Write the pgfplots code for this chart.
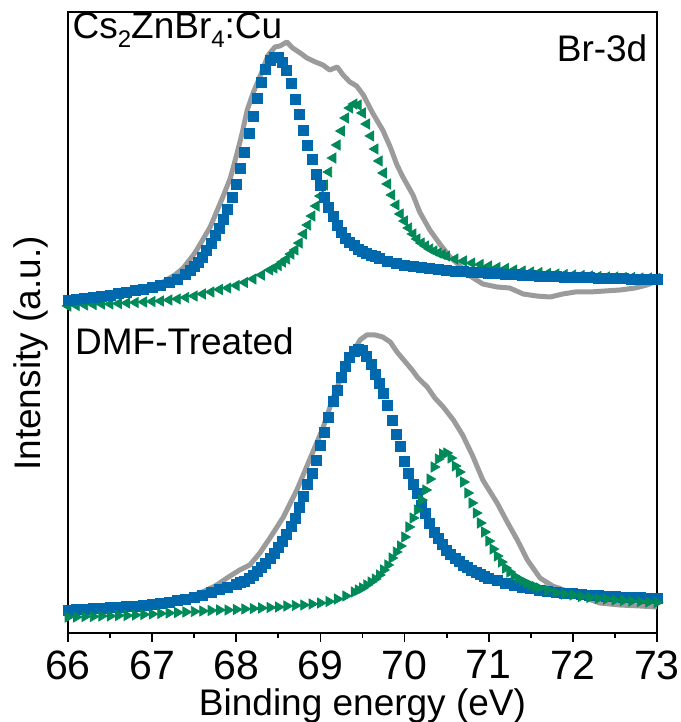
\documentclass[border=0pt]{standalone}
\usepackage{fontspec}
\setmainfont{Liberation Sans}
\usepackage{pgfplots}
\pgfplotsset{compat=1.18}
\definecolor{cblue}{RGB}{0,104,172}
\definecolor{cgreen}{RGB}{0,138,90}
\definecolor{cgray}{RGB}{155,155,155}
\newcommand\sub[1]{\raisebox{-0.22em}{\fontsize{12}{12}\selectfont #1}}
\begin{document}
\begin{tikzpicture}
\begin{axis}[
  scale only axis, width=294.5pt, height=310.5pt,
  xmin=66, xmax=73, ymin=0, ymax=621,
  xtick={66,67,...,73}, minor x tick num=1,
  ytick=\empty,
  tick align=outside, xtick pos=left,
  major tick length=4.5pt, minor tick length=2.5pt,
  every tick/.style={black, line width=0.9pt},
  axis line style={line width=1pt},
  xticklabel style={font=\fontsize{20.5}{24}\selectfont, inner sep=0pt, anchor=north, yshift=-4pt},
  /pgf/number format/assume math mode=true,
]
\coordinate (bl) at (rel axis cs:0,0);
\coordinate (tr) at (rel axis cs:1,1);
\coordinate (xl) at (rel axis cs:0.5,0);
\coordinate (yl) at (rel axis cs:0,0.45);
% ---------- top: gray raw ----------
\addplot[cgray, line width=2.5pt, line join=round] table {
66.00 333
66.38 337
66.74 342
67.09 349
67.27 358
67.37 365
67.49 378
67.53 383
67.69 406
67.84 436
67.93 455
68.01 480
68.07 500
68.13 523
68.20 540
68.28 556
68.38 578
68.46 586
68.52 587
68.60 591
68.67 585
68.76 580
68.84 575
68.94 571
69.03 568
69.11 563
69.20 566
69.27 558
69.35 551
69.43 547
69.51 538
69.62 520
69.74 503
69.83 486
69.91 468
69.98 456
70.10 438
70.18 421
70.30 403
70.42 389
70.54 376
70.66 367
70.78 357
70.93 349
71.10 346
71.25 345
71.41 339
71.57 337
71.73 336
71.88 339
72.03 341
72.20 341
72.38 342
72.56 343
72.74 345
72.88 348
73.00 352
};
% ---------- top: green ----------
\addplot[only marks, mark=triangle*, mark size=2.9pt, color=cgreen, mark options={rotate=90}] table {
66.0 327
66.1 327.5
66.2 328
66.3 328.5
66.4 329
66.5 329
66.6 329.5
66.7 330
66.8 330.5
66.9 331
67.0 331.5
67.1 332
67.2 333
67.3 334
67.4 335.5
67.5 337
67.6 339
67.7 341
67.8 343.5
67.9 345
68.0 347.5
68.1 350.5
68.2 354
68.3 358
68.4 363
68.45 365
68.5 367.5
68.55 371
68.6 374
68.65 379
68.7 383
68.75 390
68.8 399
68.85 408
68.9 417
68.95 427
69.0 437
69.05 448
69.1 461
69.15 475
69.2 488
69.25 502
69.3 515
69.35 525
69.4 529
69.45 528
69.5 520
69.55 509
69.6 497
69.65 484
69.7 472
69.75 460
69.8 449
69.85 438
69.9 428
69.95 419
70.0 412
70.05 405
70.1 399
70.15 394
70.2 390
70.25 387
70.3 384
70.35 382
70.4 380
70.45 378.5
70.5 377
70.6 374
70.7 372
70.8 370
70.9 368.5
71.0 367
71.1 365.5
71.2 364.5
71.3 363
71.4 362
71.5 361
71.6 360.5
71.7 359.5
71.8 359
71.9 358.5
72.0 358
72.1 357.5
72.2 357
72.3 356.5
72.4 356
72.5 356
72.6 355.5
72.7 355.5
72.8 355
72.9 355
73.0 354.5
};
% ---------- top: blue ----------
\addplot[only marks, mark=square*, mark size=2.5pt, color=cblue] table {
66.0 333
66.1 334
66.2 335
66.3 336
66.4 337
66.5 338
66.6 339.5
66.7 341
66.8 343
66.9 344
67.0 346
67.1 348
67.2 351
67.3 354
67.4 359
67.45 363
67.5 367
67.55 371
67.6 376
67.65 383
67.7 390
67.75 398
67.8 405
67.85 414
67.9 424
67.95 436
68.0 449
68.05 465
68.1 481
68.15 500
68.2 517
68.25 535
68.3 551
68.35 564
68.4 573
68.45 576
68.5 576
68.55 571
68.6 563
68.65 550
68.7 534
68.75 519
68.8 503
68.85 488
68.9 474
68.95 459
69.0 448
69.05 436
69.1 426
69.15 417
69.2 408
69.25 401
69.3 395
69.35 391
69.4 388
69.45 384
69.5 382
69.55 380
69.6 378
69.65 376.5
69.7 375
69.8 372
69.9 370
70.0 368
70.1 367
70.2 365.5
70.3 364.5
70.4 363.5
70.5 362.5
70.6 362
70.7 361.5
70.8 361
70.9 360.5
71.0 360
71.1 359.5
71.2 359
71.3 358.5
71.4 358
71.5 357.5
71.6 357
71.7 357
71.8 356.5
71.9 356
72.0 356
72.1 355.5
72.2 355.5
72.3 355
72.4 355
72.5 354.5
72.6 354.5
72.7 354
72.8 354
72.9 354
73.0 354
};
% ---------- bottom: gray raw ----------
\addplot[cgray, line width=2.5pt, line join=round] table {
66.00 23
66.62 26
67.09 30
67.39 35
67.57 40
67.75 47
67.89 55
68.04 63
68.16 68
68.28 80
68.40 95
68.56 116
68.72 143
68.88 175
69.03 205
69.15 235
69.27 261
69.39 281
69.47 293
69.55 298
69.65 298
69.74 296
69.83 291
69.91 281
70.01 271
70.09 263
70.16 255
70.27 246
70.36 235
70.46 226
70.58 213
70.69 198
70.81 177
70.93 153
71.10 130
71.22 111
71.34 93
71.46 73
71.61 55
71.76 47
71.93 42
72.12 36
72.32 30
72.56 28
72.80 27
73.00 26
};
% ---------- bottom: blue ----------
\addplot[only marks, mark=square*, mark size=2.5pt, color=cblue] table {
66.0 23
66.1 23.5
66.2 24
66.3 24.5
66.4 25
66.5 25.5
66.6 26
66.7 26.5
66.8 27
66.9 27.5
67.0 28.5
67.1 29.5
67.2 31
67.3 32.5
67.4 34
67.5 36
67.6 38
67.7 40.5
67.8 43.5
67.9 46
68.0 49
68.05 50.5
68.1 52
68.15 55
68.2 58
68.25 62
68.3 65.5
68.35 70
68.4 74.5
68.45 80
68.5 85.5
68.55 92
68.6 99
68.65 107
68.7 115
68.75 126
68.8 137
68.85 149
68.9 160
68.95 173
69.0 188
69.05 201
69.1 216
69.15 232
69.2 243
69.25 256
69.3 267
69.35 276
69.4 282
69.45 284
69.5 283
69.55 277
69.6 269
69.65 259
69.7 250
69.75 240
69.8 228
69.85 213
69.9 199
69.95 187
70.0 172
70.05 160
70.1 149
70.15 140
70.2 128
70.25 120
70.3 110
70.35 101
70.4 95
70.45 89
70.5 83
70.55 79
70.6 75
70.65 71.5
70.7 68
70.75 65.5
70.8 63
70.85 61
70.9 59
70.95 57
71.0 55
71.1 52.5
71.2 50
71.3 48
71.4 46
71.5 44.5
71.6 43
71.7 42
71.8 41
71.9 40
72.0 39.5
72.1 38.5
72.2 38
72.3 37.5
72.4 37
72.5 36.5
72.6 36
72.7 36
72.8 35.5
72.9 35
73.0 35
};
% ---------- bottom: green ----------
\addplot[only marks, mark=triangle*, mark size=2.9pt, color=cgreen, mark options={rotate=-90}] table {
66.0 16
66.1 16
66.2 16.5
66.3 16.5
66.4 17
66.5 17
66.6 17.5
66.7 17.5
66.8 18
66.9 18.5
67.0 19
67.1 19.5
67.2 20
67.3 20.5
67.4 21
67.5 21.5
67.6 22
67.7 22.5
67.8 23
67.9 23
68.0 23.5
68.1 24
68.2 24.5
68.3 25
68.4 25.5
68.5 26
68.6 27
68.7 27.5
68.8 28
68.9 29
69.0 30
69.1 31.5
69.2 34
69.3 37
69.4 41
69.45 43
69.5 45
69.55 48
69.6 51
69.65 54
69.7 58
69.75 63
69.8 68
69.85 75
69.9 81
69.95 87
70.0 96
70.05 106
70.1 115
70.15 123
70.2 133
70.25 143
70.3 154
70.35 166
70.4 174
70.45 179
70.5 180
70.55 175
70.6 167
70.65 161
70.7 151
70.75 140
70.8 130
70.85 120
70.9 110
70.95 101
71.0 92
71.05 84
71.1 77
71.15 71
71.2 65
71.25 61
71.3 57
71.35 54.5
71.4 52
71.45 50
71.5 48
71.55 46.5
71.6 45
71.7 43
71.8 40.5
71.9 39
72.0 38
72.1 36.5
72.2 35.5
72.3 34.5
72.4 34
72.5 33
72.6 32.5
72.7 32
72.8 31.5
72.9 31
73.0 30.5
};
% ---------- texts inside ----------
\node[anchor=base west, inner sep=0pt, font=\fontsize{18.5}{22}\selectfont] at (axis cs:66.05,594) {Cs\sub{2}ZnBr\sub{4}:Cu};
\node[anchor=base east, inner sep=0pt, font=\fontsize{18.5}{22}\selectfont] at (axis cs:72.89,571) {Br-3d};
\node[anchor=base west, inner sep=0pt, font=\fontsize{18.5}{22}\selectfont] at (axis cs:66.08,278) {DMF-Treated};
\end{axis}
\node[anchor=base, inner sep=0pt, font=\fontsize{18.5}{22}\selectfont] at ([yshift=-41pt]xl) {Binding energy (eV)};
\node[rotate=90, anchor=base, inner sep=0pt, font=\fontsize{18.5}{22}\selectfont] at ([xshift=-14pt]yl) {Intensity (a.u.)};
\pgfresetboundingbox
\path[use as bounding box] ([xshift=-34pt,yshift=-44.5pt]bl) rectangle ([xshift=12pt,yshift=6pt]tr);
\end{tikzpicture}
\end{document}
